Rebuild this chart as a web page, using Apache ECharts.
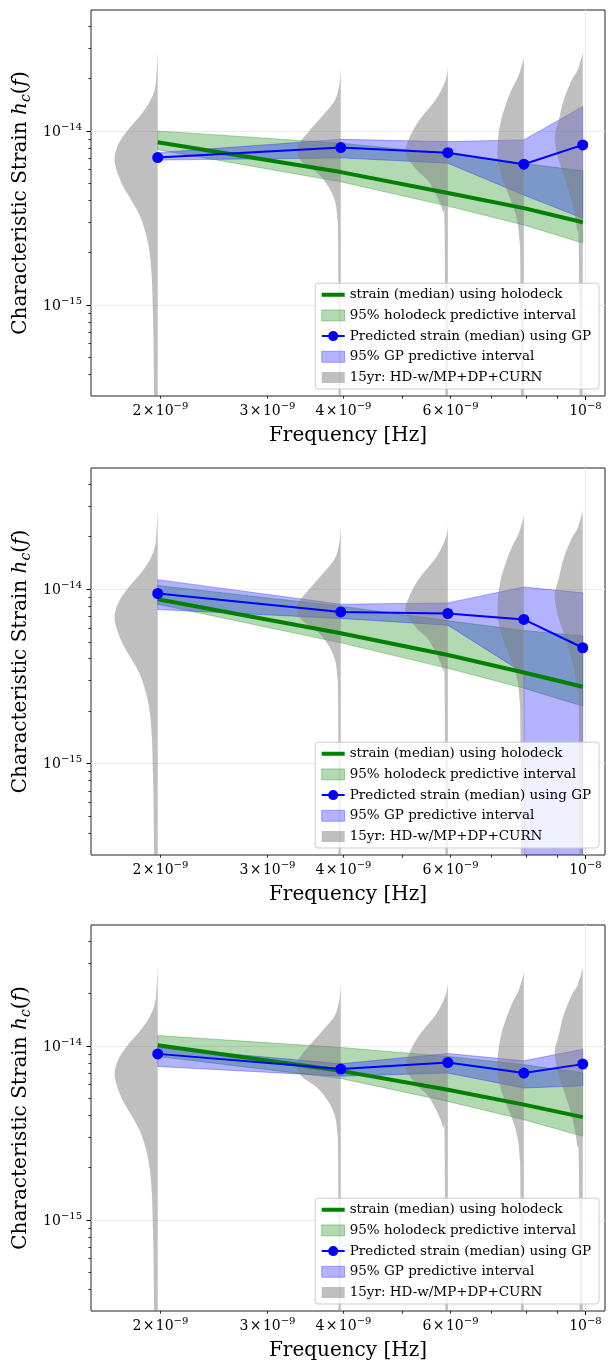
<!DOCTYPE html>
<html>
<head>
<meta charset="utf-8">
<script src="https://cdn.jsdelivr.net/npm/echarts@6.0.0/dist/echarts.min.js"></script>
<style>
html,body{margin:0;padding:0;background:#ffffff;}
#chart{width:609px;height:1362px;}
</style>
</head>
<body>
<div id="chart"></div>
<script>
// ---------------- data ----------------
const frequencies = [1.98e-9, 3.96e-9, 5.94e-9, 7.92e-9, 9.90e-9];

// panel 1
const p1HoloMedian = [8.6e-15, 5.8e-15, 4.4e-15, 3.6e-15, 2.99e-15];
const p1HoloUpper  = [1.0e-14, 8.5e-15, 7.4e-15, 6.5e-15, 5.9e-15];
const p1HoloLower  = [7.8e-15, 5.1e-15, 3.7e-15, 2.88e-15, 2.27e-15];
const p1GpMedian   = [7.03e-15, 8.02e-15, 7.5e-15, 6.44e-15, 8.31e-15];
const p1GpUpper    = [7.5e-15, 8.95e-15, 8.68e-15, 8.88e-15, 1.38e-14];
const p1GpLower    = [6.8e-15, 7.0e-15, 6.52e-15, 4.28e-15, 3.15e-15];
// panel 2
const p2HoloMedian = [8.77e-15, 5.6e-15, 4.2e-15, 3.33e-15, 2.76e-15];
const p2HoloUpper  = [1.05e-14, 8.0e-15, 6.6e-15, 5.8e-15, 5.4e-15];
const p2HoloLower  = [8.2e-15, 4.93e-15, 3.52e-15, 2.71e-15, 2.14e-15];
const p2GpMedian   = [9.45e-15, 7.41e-15, 7.26e-15, 6.71e-15, 4.62e-15];
const p2GpUpper    = [1.135e-14, 8.2e-15, 8.35e-15, 1.03e-14, 9.53e-15];
const p2GpLower    = [7.65e-15, 6.8e-15, 6.22e-15, 3.3e-15, 0];
// panel 3
const p3HoloMedian = [1.01e-14, 7.19e-15, 5.6e-15, 4.6e-15, 3.9e-15];
const p3HoloUpper  = [1.146e-14, 9.8e-15, 8.7e-15, 7.8e-15, 7.0e-15];
const p3HoloLower  = [8.7e-15, 6.5e-15, 4.8e-15, 3.77e-15, 3.03e-15];
const p3GpMedian   = [9.0e-15, 7.36e-15, 8.03e-15, 6.98e-15, 7.86e-15];
const p3GpUpper    = [9.8e-15, 7.89e-15, 9.05e-15, 8.21e-15, 9.57e-15];
const p3GpLower    = [7.62e-15, 6.7e-15, 6.98e-15, 5.73e-15, 5.9e-15];

// 15yr violins: [log10 h_c, relative half-width]
const violin1 = [[-13.54,0],[-13.66,0.025],[-13.75,0.06],[-13.83,0.18],[-13.91,0.40],[-13.99,0.68],[-14.07,0.90],[-14.15,1.0],[-14.22,0.96],[-14.31,0.82],[-14.40,0.61],[-14.48,0.43],[-14.57,0.30],[-14.68,0.20],[-14.83,0.14],[-14.97,0.12],[-15.26,0.095],[-15.8,0.08]];
const violin2 = [[-13.63,0],[-13.68,0.01],[-13.75,0.045],[-13.83,0.15],[-13.92,0.45],[-14.01,0.77],[-14.09,1.0],[-14.17,0.93],[-14.24,0.55],[-14.32,0.29],[-14.40,0.14],[-14.49,0.085],[-14.68,0.06],[-15.8,0.05]];
const violin3 = [[-13.62,0],[-13.66,0.01],[-13.72,0.07],[-13.82,0.28],[-13.94,0.67],[-14.05,0.91],[-14.13,0.98],[-14.22,0.74],[-14.28,0.48],[-14.34,0.33],[-14.40,0.21],[-14.47,0.11],[-14.57,0.075],[-15.8,0.055]];
const violin4 = [[-13.56,0],[-13.59,0.01],[-13.68,0.12],[-13.76,0.28],[-13.85,0.42],[-13.94,0.53],[-14.05,0.60],[-14.17,0.60],[-14.28,0.49],[-14.40,0.30],[-14.51,0.16],[-14.63,0.10],[-14.80,0.08],[-15.8,0.065]];
const violin5 = [[-13.53,0],[-13.56,0.01],[-13.65,0.12],[-13.71,0.26],[-13.82,0.44],[-13.94,0.56],[-14.03,0.65],[-14.13,0.60],[-14.22,0.49],[-14.34,0.33],[-14.45,0.21],[-14.57,0.13],[-14.70,0.09],[-15.8,0.07]];

// ticks
const xTickValues    = [2e-9, 3e-9, 4e-9, 6e-9, 1e-8];
const xTickMantissas = ['2', '3', '4', '6', ''];
const xTickExponents = ['\u22129', '\u22129', '\u22129', '\u22129', '\u22128'];
const xMajorTicks = [1e-8];
const xMinorTicks = [2e-9, 3e-9, 4e-9, 5e-9, 6e-9, 7e-9, 8e-9, 9e-9];
const yTickValues    = [1e-15, 1e-14];
const yTickExponents = ['\u221215', '\u221214'];
const yMinorTicks = [4e-16,5e-16,6e-16,7e-16,8e-16,9e-16,2e-15,3e-15,4e-15,5e-15,6e-15,7e-15,8e-15,9e-15,2e-14,3e-14,4e-14];
const xLimits = [1.538e-9, 1.077e-8];
const yLimits = [3.0e-16, 4.95e-14];

const legendLabels = [
  'strain (median) using holodeck',
  '95% holodeck predictive interval',
  'Predicted strain (median) using GP',
  '95% GP predictive interval',
  '15yr: HD-w/MP+DP+CURN'
];

// ---------------- rendering ----------------
const FONT = 'DejaVu Serif';
const lg = Math.log10;
const panels = [
  {hm: p1HoloMedian, hu: p1HoloUpper, hl: p1HoloLower, gm: p1GpMedian, gu: p1GpUpper, gl: p1GpLower},
  {hm: p2HoloMedian, hu: p2HoloUpper, hl: p2HoloLower, gm: p2GpMedian, gu: p2GpUpper, gl: p2GpLower},
  {hm: p3HoloMedian, hu: p3HoloUpper, hl: p3HoloLower, gm: p3GpMedian, gu: p3GpUpper, gl: p3GpLower}
];
const violins = [violin1, violin2, violin3, violin4, violin5];
const gridTops = [10, 468, 925];
const gridHeights = [386, 387, 386];
const legendBottoms = [973, 514, 58];
const VIOLIN_HALF_DECADES = 0.0708;
const LOG_FLOOR = 1e-100;

const GREEN_FILL = 'rgba(0,128,0,0.3)';
const BLUE_FILL = 'rgba(0,0,255,0.3)';
const GRAY_FILL = 'rgba(128,128,128,0.5)';

const labelRich = {
  b: {fontFamily: FONT, fontSize: 14, color: '#000', lineHeight: 16, verticalAlign: 'bottom'},
  s: {fontFamily: FONT, fontSize: 10, color: '#000', lineHeight: 10, verticalAlign: 'bottom', padding: [0, 0, 7, 0]}
};

function findIdx(arr, v) {
  for (let i = 0; i < arr.length; i++) if (Math.abs(lg(arr[i]) - v) < 1e-6) return i;
  return -1;
}
function xLabel(v) {
  const i = findIdx(xTickValues, v);
  if (i < 0) return '';
  const m = xTickMantissas[i];
  return '{b|' + (m ? m + '\u200a\u00d7\u200a10' : '10') + '}{s|' + xTickExponents[i] + '}';
}
function yLabel(v) {
  const i = findIdx(yTickValues, v);
  if (i < 0) return '';
  return '{b|10}{s|' + yTickExponents[i] + '}';
}

function bandRender(fill) {
  return function (params, api) {
    if (params.dataIndexInside !== 0) return null;
    const n = params.dataInsideLength;
    const top = [], bot = [];
    for (let k = 0; k < n; k++) {
      const f = api.value(0, k), up = api.value(1, k), lo = api.value(2, k);
      top.push(api.coord([f, up]));
      bot.push(api.coord([f, Math.max(lo, LOG_FLOOR)]));
    }
    const pts = top.concat(bot.reverse());
    return {type: 'polygon', shape: {points: pts}, style: {fill: fill, stroke: fill, lineWidth: 1}};
  };
}

function catmull(pts, steps) {
  if (pts.length < 3) return pts.slice();
  const out = [];
  for (let i = 0; i < pts.length - 1; i++) {
    const p0 = pts[Math.max(i - 1, 0)], p1 = pts[i], p2 = pts[i + 1], p3 = pts[Math.min(i + 2, pts.length - 1)];
    for (let s = 0; s < steps; s++) {
      const t = s / steps, t2 = t * t, t3 = t2 * t;
      const c = [0, 1].map(d => 0.5 * ((2 * p1[d]) + (-p0[d] + p2[d]) * t +
        (2 * p0[d] - 5 * p1[d] + 4 * p2[d] - p3[d]) * t2 +
        (-p0[d] + 3 * p1[d] - 3 * p2[d] + p3[d]) * t3));
      out.push(c);
    }
  }
  out.push(pts[pts.length - 1]);
  return out;
}

function violinRender(params, api) {
  const f = api.value(0);
  const idx = api.value(2);
  const prof = violins[idx];
  const right = api.coord([f, 1e-14])[0];
  const left = prof.map(([lv, w]) => api.coord([f * Math.pow(10, -VIOLIN_HALF_DECADES * w), Math.pow(10, lv)]));
  const smooth = catmull(left, 8).map(p => [Math.min(p[0], right), p[1]]);
  smooth.push(api.coord([f, Math.pow(10, prof[prof.length - 1][0])]));
  smooth.push(api.coord([f, Math.pow(10, prof[0][0])]));
  return {type: 'polygon', shape: {points: smooth}, style: {fill: GRAY_FILL}};
}

const grids = [], xAxes = [], yAxes = [], series = [], legends = [];

const lineIcon = 'path://M0,0h0.01v0.01h-0.01z M0,3.5h23v4h-23z M22.99,10.99h0.01v0.01h-0.01z';
const gpIcon = 'path://M0,0h0.01v0.01h-0.01z M0,4.5h23v2h-23z M16.5,5.5a5,5 0 1,1 -10,0a5,5 0 1,1 10,0z M22.99,10.99h0.01v0.01h-0.01z';

for (let p = 0; p < 3; p++) {
  const P = panels[p];
  grids.push({left: 91, top: gridTops[p], width: 514, height: gridHeights[p], show: true,
    borderColor: '#222', borderWidth: 1, backgroundColor: 'transparent', containLabel: false});

  xAxes.push({type: 'log', logBase: 10, gridIndex: p, min: xLimits[0], max: xLimits[1], position: 'bottom',
    axisLine: {show: false, onZero: false}, axisTick: {show: false}, axisLabel: {show: false}, splitLine: {show: false},
    name: 'Frequency [Hz]', nameLocation: 'middle', nameGap: 30, nameMoveOverlap: false,
    nameTextStyle: {fontFamily: FONT, fontSize: 20, color: '#000'}});
  xAxes.push({type: 'value', gridIndex: p, min: lg(xLimits[0]), max: lg(xLimits[1]), position: 'bottom',
    axisLine: {show: false, onZero: false},
    axisTick: {show: true, length: 4, customValues: xMajorTicks.map(lg), lineStyle: {color: '#000', width: 1}},
    axisLabel: {show: true, customValues: xTickValues.map(lg), formatter: xLabel, margin: 6, rich: labelRich},
    splitLine: {show: true, lineStyle: {color: '#ebebeb', width: 1}}});
  xAxes.push({type: 'value', gridIndex: p, min: lg(xLimits[0]), max: lg(xLimits[1]), position: 'bottom',
    axisLine: {show: false, onZero: false},
    axisTick: {show: true, length: 2.7, customValues: xMinorTicks.map(lg), lineStyle: {color: '#000', width: 0.8}},
    axisLabel: {show: false}, splitLine: {show: false}});

  yAxes.push({type: 'log', logBase: 10, gridIndex: p, min: yLimits[0], max: yLimits[1], position: 'left',
    axisLine: {show: false, onZero: false}, axisTick: {show: false}, axisLabel: {show: false}, splitLine: {show: false},
    name: '{t|Characteristic Strain }{i|h}{s|c}{t|(}{i|f}{t|)}', nameLocation: 'middle', nameGap: 58, nameRotate: 90,
    nameMoveOverlap: false,
    nameTextStyle: {rich: {
      t: {fontFamily: FONT, fontSize: 20, color: '#000', lineHeight: 24, verticalAlign: 'bottom', padding: [0, 0, 2, 0]},
      i: {fontFamily: FONT, fontSize: 20, fontStyle: 'italic', color: '#000', lineHeight: 24, verticalAlign: 'bottom', padding: [0, 0, 2, 0]},
      s: {fontFamily: FONT, fontSize: 14, fontStyle: 'italic', color: '#000', lineHeight: 14, verticalAlign: 'bottom'}
    }}});
  yAxes.push({type: 'value', gridIndex: p, min: lg(yLimits[0]), max: lg(yLimits[1]), position: 'left',
    axisLine: {show: false, onZero: false},
    axisTick: {show: true, length: 4.5, customValues: yTickValues.map(lg), lineStyle: {color: '#000', width: 1}},
    axisLabel: {show: true, customValues: yTickValues.map(lg), formatter: yLabel, margin: 9, rich: labelRich},
    splitLine: {show: true, lineStyle: {color: '#ebebeb', width: 1}}});
  yAxes.push({type: 'value', gridIndex: p, min: lg(yLimits[0]), max: lg(yLimits[1]), position: 'left',
    axisLine: {show: false, onZero: false},
    axisTick: {show: true, length: 2.5, customValues: yMinorTicks.map(lg), lineStyle: {color: '#000', width: 0.8}},
    axisLabel: {show: false}, splitLine: {show: false}});

  const xi = 3 * p, yi = 3 * p;
  series.push({type: 'custom', name: legendLabels[1], xAxisIndex: xi, yAxisIndex: yi, clip: true, z: 1, silent: true,
    itemStyle: {color: GREEN_FILL}, encode: {x: 0, y: 1},
    data: frequencies.map((f, i) => [f, P.hu[i], P.hl[i]]), renderItem: bandRender(GREEN_FILL)});
  series.push({type: 'custom', name: legendLabels[3], xAxisIndex: xi, yAxisIndex: yi, clip: true, z: 2, silent: true,
    itemStyle: {color: BLUE_FILL}, encode: {x: 0, y: 1},
    data: frequencies.map((f, i) => [f, P.gu[i], P.gl[i]]), renderItem: bandRender(BLUE_FILL)});
  series.push({type: 'custom', name: legendLabels[4], xAxisIndex: xi, yAxisIndex: yi, clip: true, z: 3, silent: true,
    itemStyle: {color: GRAY_FILL}, encode: {x: 0, y: 1},
    data: frequencies.map((f, i) => [f, Math.pow(10, violins[i][0][0]), i]), renderItem: violinRender});
  series.push({type: 'line', name: legendLabels[0], xAxisIndex: xi, yAxisIndex: yi, z: 4, silent: true,
    symbol: 'none', itemStyle: {color: 'green'}, lineStyle: {color: 'green', width: 4},
    data: frequencies.map((f, i) => [f, P.hm[i]])});
  series.push({type: 'line', name: legendLabels[2], xAxisIndex: xi, yAxisIndex: yi, z: 5, silent: true,
    symbol: 'circle', symbolSize: 11, showSymbol: true, itemStyle: {color: 'blue'}, lineStyle: {color: 'blue', width: 2},
    data: frequencies.map((f, i) => [f, P.gm[i]])});

  legends.push({orient: 'vertical', right: 10, bottom: legendBottoms[p], z: 10,
    itemWidth: 23, itemHeight: 11, itemGap: 5.7, padding: [4, 8, 4, 6],
    backgroundColor: 'rgba(255,255,255,0.8)', borderColor: '#cccccc', borderWidth: 1, borderRadius: 3,
    selectedMode: false,
    textStyle: {fontFamily: FONT, fontSize: 13.5, color: '#000', lineHeight: 15},
    data: [
      {name: legendLabels[0], icon: lineIcon, itemStyle: {color: 'green', borderWidth: 0}},
      {name: legendLabels[1], icon: 'rect', itemStyle: {color: GREEN_FILL, borderColor: GREEN_FILL, borderWidth: 1}},
      {name: legendLabels[2], icon: gpIcon, itemStyle: {color: 'blue', borderWidth: 0}},
      {name: legendLabels[3], icon: 'rect', itemStyle: {color: BLUE_FILL, borderColor: BLUE_FILL, borderWidth: 1}},
      {name: legendLabels[4], icon: 'rect', itemStyle: {color: GRAY_FILL, borderWidth: 0}}
    ]});
}

const chart = echarts.init(document.getElementById('chart'), null, {renderer: 'canvas'});
chart.setOption({
  animation: false,
  backgroundColor: '#ffffff',
  grid: grids,
  xAxis: xAxes,
  yAxis: yAxes,
  legend: legends,
  series: series
});
</script>
</body>
</html>
